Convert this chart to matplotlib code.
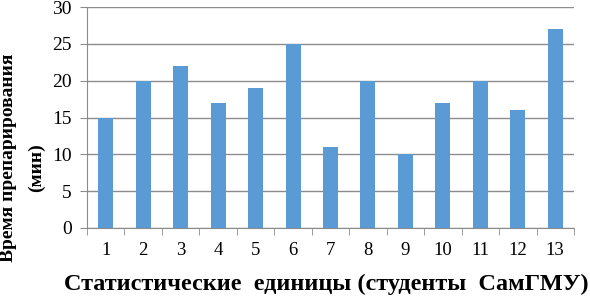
import numpy as np
import matplotlib.pyplot as plt

students = [str(i) for i in range(1, 14)]
minutes = [15, 20, 22, 17, 19, 25, 11, 20, 10, 17, 20, 16, 27]
yticks = [0, 5, 10, 15, 20, 25, 30]

plt.rcParams['font.family'] = 'Liberation Serif'

fig = plt.figure(figsize=(5.9, 3.01), dpi=100)
ax = fig.add_axes([87 / 590, 73 / 301, 487 / 590, 221 / 301])

x = np.arange(len(students))
ax.bar(x, minutes, width=0.4, color='#5B9BD5', zorder=3)

ax.set_xlim(-0.5, len(students) - 0.5)
ax.set_ylim(0, 30)
ax.set_yticks(yticks)
ax.yaxis.grid(True, color='#8c8c8c', linewidth=1, zorder=0)
ax.tick_params(axis='y', length=5, color='#8c8c8c', labelsize=14, pad=6)

ax.set_xticks(x)
ax.set_xticklabels(students, fontsize=13.5)
ax.set_xticks(np.arange(-0.5, len(students)), minor=True)
ax.tick_params(axis='x', which='major', length=0, pad=10)
ax.tick_params(axis='x', which='minor', length=5, color='#8c8c8c', direction='out')

for s in ['top', 'right']:
    ax.spines[s].set_visible(False)
ax.spines['left'].set_color('#8c8c8c')
ax.spines['bottom'].set_color('#8c8c8c')

fig.text(9 / 590, 1 - 158 / 301, 'Время препарирования', rotation=90, fontsize=14,
         fontweight='bold', ha='center', va='center')
fig.text(36 / 590, 1 - 168 / 301, '(мин)', rotation=90, fontsize=14,
         fontweight='bold', ha='center', va='center')
fig.text(326 / 590, 1 - 284 / 301, 'Статистические  единицы (студенты  СамГМУ)',
         fontsize=17.5, fontweight='bold', ha='center', va='center')

fig.savefig('out.png', dpi=100)
